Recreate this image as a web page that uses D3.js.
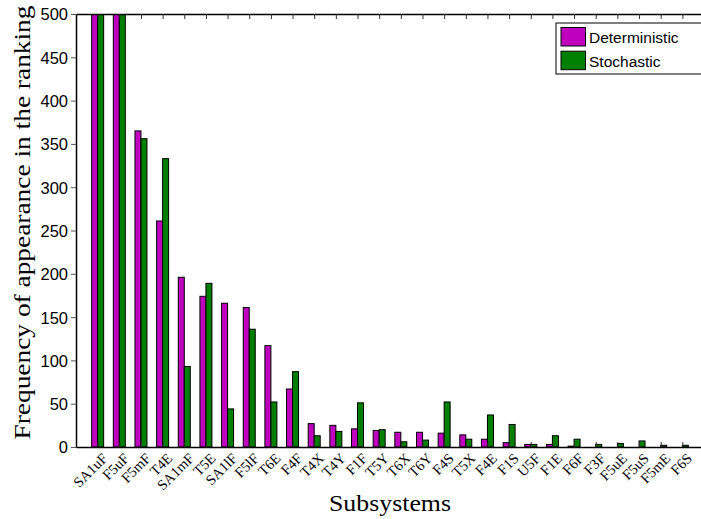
<!DOCTYPE html>
<html>
<head>
<meta charset="utf-8">
<script src="https://cdn.jsdelivr.net/npm/d3@7/dist/d3.min.js"></script>
<style>
  html, body { margin: 0; padding: 0; background: #fff; }
  svg { display: block; }
</style>
</head>
<body>
<svg id="chart" width="701" height="519"></svg>
<script>
// Subsystems in ranking order
const categories = ["SA1uF", "F5uF", "F5mF", "T4E", "SA1mF", "T5E", "SA1lF", "F5lF", "T6E", "F4F",
  "T4X", "T4Y", "F1F", "T5Y", "T6X", "T6Y", "F4S", "T5X", "F4E", "F1S",
  "U5F", "F1E", "F6F", "F3F", "F5uE", "F5uS", "F5mE", "F6S"];
// Frequency of appearance per subsystem
const deterministic = [500, 500, 365, 261, 196, 174, 166, 161, 117, 67,
  27, 25, 21, 19, 17, 17, 16, 14, 9, 5,
  3, 3, 1, 0, 0, 0, 0, 0];
const stochastic = [500, 500, 356, 333, 93, 189, 44, 136, 52, 87,
  13, 18, 51, 20, 6, 8, 52, 9, 37, 26,
  3, 13, 9, 3, 4, 7, 2, 2];
const seriesNames = ["Deterministic", "Stochastic"];
const seriesColors = ["#bf00bf", "#007f00"];
const yTicks = [0, 50, 100, 150, 200, 250, 300, 350, 400, 450, 500];

const svg = d3.select("#chart");
const plotL = 76, plotR = 704, plotT = 14, plotB = 447;
const serif = "Liberation Serif, Times New Roman, serif";
const sans = "Liberation Sans, Arial, sans-serif";

const x = d3.scaleLinear().domain([0, categories.length + 1]).range([plotL, plotR]);
const y = d3.scaleLinear().domain([0, 500]).range([plotB, plotT]);
const barW = x(0.277) - x(0);

svg.append("defs").append("clipPath").attr("id", "plotclip")
  .append("rect").attr("x", plotL).attr("y", plotT).attr("width", plotR - plotL).attr("height", plotB - plotT);

// Bars
const series = [deterministic, stochastic];
const barG = svg.append("g").attr("clip-path", "url(#plotclip)");
series.forEach((vals, s) => {
  barG.selectAll(null)
    .data(vals.map((v, i) => ({ v, i })))
    .join("rect")
    .attr("x", d => x(d.i + 1) + (s === 0 ? -barW : 0))
    .attr("y", d => y(d.v))
    .attr("width", barW)
    .attr("height", d => y(0) - y(d.v))
    .attr("fill", seriesColors[s])
    .attr("stroke", "#000")
    .attr("stroke-width", 1);
});

// Y axis
const yAxis = d3.axisLeft(y).tickValues(yTicks).tickSize(5).tickSizeOuter(0).tickPadding(3);
const yG = svg.append("g").attr("transform", `translate(${plotL},0)`).call(yAxis);
yG.select(".domain").attr("stroke", "#000").attr("stroke-width", 1.5);
yG.selectAll(".tick line").attr("stroke", "#555");
yG.selectAll(".tick text")
  .attr("font-family", sans)
  .attr("font-size", 16.5).attr("fill", "#000").attr("dy", "0.36em");

// Bottom axis: ticks point into the plot, labels rotated
const xTickVals = categories.map((c, i) => i + 1);
const xAxis = d3.axisBottom(x).tickValues(xTickVals).tickSize(-5).tickSizeOuter(0).tickFormat(() => "");
const xG = svg.append("g").attr("transform", `translate(0,${plotB})`).call(xAxis);
xG.select(".domain").attr("stroke", "#000").attr("stroke-width", 1.5);
xG.selectAll(".tick line").attr("stroke", "#333");
xG.selectAll(".tick").append("text")
  .text((d, i) => categories[i])
  .attr("text-anchor", "end")
  .attr("transform", "translate(3,5) rotate(-45)")
  .attr("font-family", serif)
  .attr("font-size", 14.5).attr("fill", "#000").attr("dy", "0.7em");

// Top border with inward ticks
const xTop = d3.axisTop(x).tickValues(xTickVals).tickSize(-5).tickSizeOuter(0).tickFormat(() => "");
const tG = svg.append("g").attr("transform", `translate(0,${plotT})`).call(xTop);
tG.select(".domain").attr("stroke", "#000").attr("stroke-width", 1.5);
tG.selectAll(".tick line").attr("stroke", "#333");

// Axis titles
svg.append("text")
  .attr("x", (plotL + plotR) / 2).attr("y", 511)
  .attr("text-anchor", "middle")
  .attr("font-family", serif)
  .attr("font-size", 22.5)
  .attr("textLength", 122).attr("lengthAdjust", "spacingAndGlyphs")
  .text("Subsystems");

svg.append("text")
  .attr("transform", `translate(30,${(plotT + plotB) / 2 - 8}) rotate(-90)`)
  .attr("text-anchor", "middle")
  .attr("font-family", serif)
  .attr("font-size", 22.5)
  .attr("textLength", 434).attr("lengthAdjust", "spacingAndGlyphs")
  .text("Frequency of appearance in the ranking");

// Legend
const lg = svg.append("g").attr("transform", "translate(556,23)");
lg.append("rect").attr("x", 0).attr("y", 0).attr("width", 160).attr("height", 51)
  .attr("fill", "#fff").attr("stroke", "#000").attr("stroke-width", 1);
seriesNames.forEach((name, s) => {
  lg.append("rect").attr("x", 5).attr("y", 4.5 + s * 23.7).attr("width", 24.5).attr("height", 18.5)
    .attr("fill", seriesColors[s]).attr("stroke", "#000").attr("stroke-width", 1);
  lg.append("text").attr("x", 33).attr("y", 19.5 + s * 24.5)
    .attr("font-family", sans)
    .attr("font-size", 15.5).text(name);
});
</script>
</body>
</html>
